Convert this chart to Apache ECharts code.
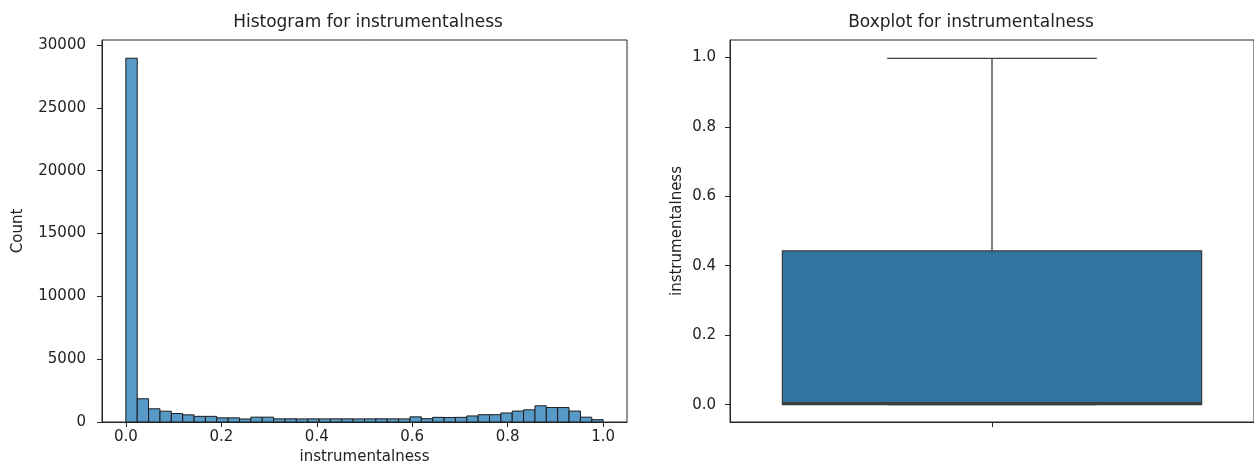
<!DOCTYPE html>
<html>
<head>
<meta charset="utf-8">
<script src="https://cdn.jsdelivr.net/npm/echarts@6/dist/echarts.min.js"></script>
<style>
  html, body { margin: 0; padding: 0; background: #fff; }
  #chart { width: 1254px; height: 475px; }
</style>
</head>
<body>
<div id="chart"></div>
<script>
// histogram: 42 bins over [0, 1]
var binMin = 0;
var binMax = 1;
var histCounts = [28950, 1850, 1050, 860, 675, 570, 450, 450, 330, 330, 240, 385, 385,
  250, 255, 245, 250, 245, 250, 250, 245, 250, 255, 250, 245,
  410, 265, 370, 360, 370, 480, 580, 580, 715, 870, 970, 1290, 1150, 1150, 870, 385, 185];
var histXTicks = [0, 0.2, 0.4, 0.6, 0.8, 1.0];
var histYTicks = [0, 5000, 10000, 15000, 20000, 25000, 30000];

// boxplot: [whisker low, Q1, median, Q3, whisker high]
var boxCategories = [''];
var boxStats = [0, 0, 0.004, 0.443, 0.997];
var boxYTicks = [0, 0.2, 0.4, 0.6, 0.8, 1.0];

var textColor = '#222';
var lineColor = '#262626';
var font = 'DejaVu Sans';

var histData = [];
var binW = (binMax - binMin) / histCounts.length;
for (var i = 0; i < histCounts.length; i++) {
  histData.push([binMin + i * binW, binMin + (i + 1) * binW, histCounts[i]]);
}

function axisCommon() {
  return {
    axisLine: { show: true, onZero: false, lineStyle: { color: lineColor, width: 1 } },
    splitLine: { show: false },
    nameTextStyle: { color: textColor, fontSize: 15, fontFamily: font }
  };
}

function ticks(vals) {
  return { show: true, length: 5, customValues: vals, lineStyle: { color: lineColor, width: 1 } };
}

var chart = echarts.init(document.getElementById('chart'));

var option = {
  animation: false,
  backgroundColor: '#fff',
  title: [
    {
      text: 'Histogram for instrumentalness',
      left: 363, top: 9, textAlign: 'center',
      textStyle: { color: textColor, fontSize: 17, fontWeight: 'normal', fontFamily: font }
    },
    {
      text: 'Boxplot for instrumentalness',
      left: 966, top: 9, textAlign: 'center',
      textStyle: { color: textColor, fontSize: 17, fontWeight: 'normal', fontFamily: font }
    }
  ],
  grid: [
    { left: 102, top: 40, width: 525, height: 382, show: true, borderColor: lineColor, borderWidth: 1 },
    // right spine falls just outside the picture, as in the original
    { left: 730, top: 40, width: 528, height: 382, show: true, borderColor: lineColor, borderWidth: 1 }
  ],
  xAxis: [
    Object.assign(axisCommon(), {
      type: 'value', gridIndex: 0, min: -0.05, max: 1.05,
      name: 'instrumentalness', nameLocation: 'middle', nameGap: 23,
      axisTick: ticks(histXTicks),
      axisLabel: {
        customValues: histXTicks, margin: 8, color: textColor, fontSize: 15, fontFamily: font,
        formatter: function (v) { return v.toFixed(1); }
      }
    }),
    Object.assign(axisCommon(), {
      type: 'category', gridIndex: 1, data: boxCategories, boundaryGap: true,
      axisTick: { show: true, length: 5, alignWithLabel: true, lineStyle: { color: lineColor } },
      axisLabel: { show: true, color: textColor, fontSize: 15, fontFamily: font }
    })
  ],
  yAxis: [
    Object.assign(axisCommon(), {
      type: 'value', gridIndex: 0, min: 0, max: 30400,
      name: 'Count', nameLocation: 'middle', nameGap: 76,
      axisTick: ticks(histYTicks),
      axisLabel: {
        customValues: histYTicks, margin: 16, color: textColor, fontSize: 15, fontFamily: font,
        formatter: function (v) { return String(v); }
      }
    }),
    Object.assign(axisCommon(), {
      type: 'value', gridIndex: 1, min: -0.05, max: 1.05,
      name: 'instrumentalness', nameLocation: 'middle', nameGap: 45,
      axisTick: ticks(boxYTicks),
      axisLabel: {
        customValues: boxYTicks, margin: 14, color: textColor, fontSize: 15, fontFamily: font,
        formatter: function (v) { return v.toFixed(1); }
      }
    })
  ],
  series: [
    {
      type: 'custom',
      xAxisIndex: 0, yAxisIndex: 0,
      encode: { x: [0, 1], y: 2 },
      data: histData,
      renderItem: function (params, api) {
        var p0 = api.coord([api.value(0), api.value(2)]);
        var p1 = api.coord([api.value(1), 0]);
        return {
          type: 'rect',
          shape: { x: p0[0], y: p0[1], width: p1[0] - p0[0], height: p1[1] - p0[1] },
          style: { fill: '#5799c7', stroke: '#1c1c1c', lineWidth: 1 }
        };
      }
    },
    {
      type: 'custom',
      xAxisIndex: 1, yAxisIndex: 1,
      encode: { x: 0, y: [1, 2, 3, 4, 5] },
      data: [[0].concat(boxStats)],
      renderItem: function (params, api) {
        var band = api.size([1, 0])[0];
        var lo = api.coord([0, api.value(1)]);
        var q1 = api.coord([0, api.value(2)]);
        var med = api.coord([0, api.value(3)]);
        var q3 = api.coord([0, api.value(4)]);
        var hi = api.coord([0, api.value(5)]);
        var cx = q1[0];
        var bw = band * 0.4;
        var cw = band * 0.2;
        var edge = '#3f3f3f';
        return {
          type: 'group',
          children: [
            { type: 'line', shape: { x1: cx, y1: q3[1], x2: cx, y2: hi[1] }, style: { stroke: edge, lineWidth: 1.3 } },
            { type: 'line', shape: { x1: cx - cw, y1: hi[1], x2: cx + cw, y2: hi[1] }, style: { stroke: edge, lineWidth: 1.3 } },
            { type: 'line', shape: { x1: cx, y1: q1[1], x2: cx, y2: lo[1] }, style: { stroke: edge, lineWidth: 1.3 } },
            { type: 'line', shape: { x1: cx - cw, y1: lo[1], x2: cx + cw, y2: lo[1] }, style: { stroke: edge, lineWidth: 1.3 } },
            { type: 'rect', shape: { x: cx - bw, y: q3[1], width: bw * 2, height: q1[1] - q3[1] }, style: { fill: '#3274a1', stroke: edge, lineWidth: 1.3 } },
            { type: 'line', shape: { x1: cx - bw, y1: med[1], x2: cx + bw, y2: med[1] }, style: { stroke: edge, lineWidth: 2.5 } }
          ]
        };
      }
    }
  ]
};

chart.setOption(option);
</script>
</body>
</html>
